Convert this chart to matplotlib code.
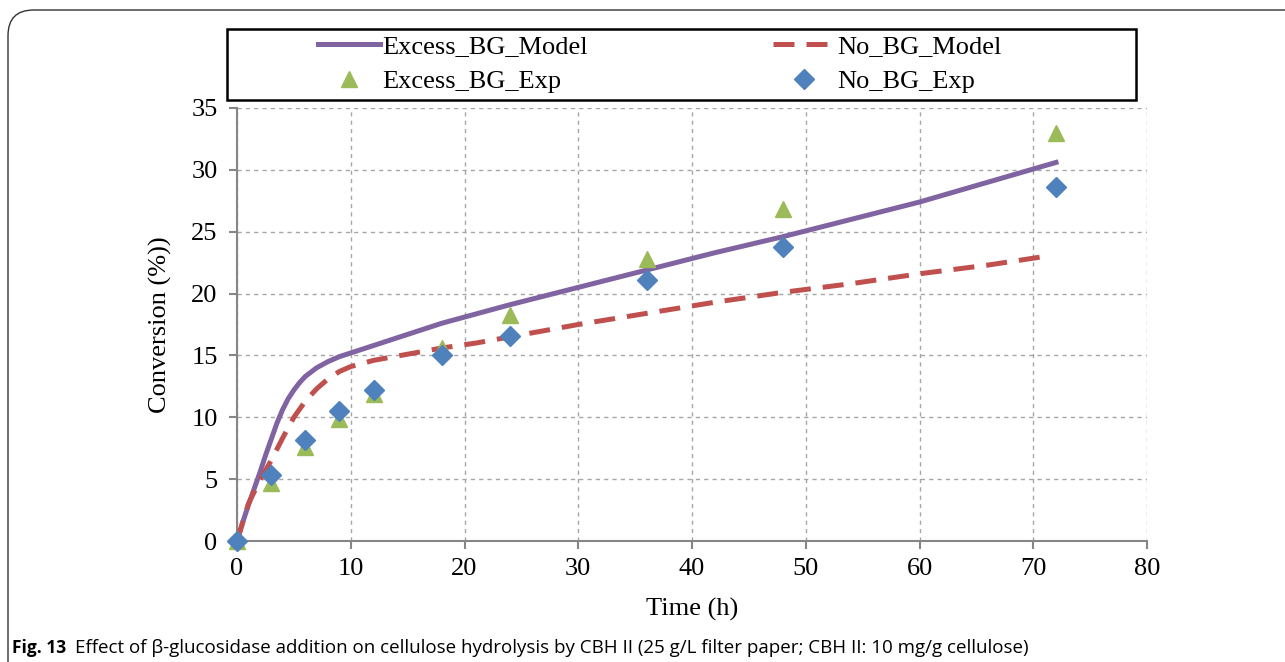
import matplotlib.pyplot as plt
from matplotlib.patches import FancyBboxPatch, Rectangle

# experimental points
t_exp = [0, 3, 6, 9, 12, 18, 24, 36, 48, 72]
excess_exp = [0, 4.7, 7.6, 9.9, 11.9, 15.6, 18.3, 22.8, 26.8, 33.0]
no_bg_exp = [0, 5.3, 8.2, 10.5, 12.2, 15.0, 16.6, 21.1, 23.8, 28.6]

# model curves
t_excess_model = [0, 0.5, 1, 1.5, 2, 2.5, 3, 3.5, 4, 4.5, 5, 5.5, 6, 7, 8, 9, 10, 12, 14, 16, 18, 20,
                  24, 30, 36, 42, 48, 54, 60, 66, 72]
excess_model = [0, 1.5, 2.9, 4.2, 5.5, 6.9, 8.2, 9.5, 10.6, 11.5, 12.2, 12.8, 13.3, 14.0, 14.5, 14.9,
                15.2, 15.8, 16.4, 17.0, 17.6, 18.1, 19.1, 20.5, 21.9, 23.3, 24.6, 26.0, 27.4, 29.0, 30.6]
t_no_bg_model = [0, 1, 2, 3, 4, 5, 6, 7, 8, 9, 10, 12, 15, 18, 21, 24, 30, 36, 42, 48, 54, 60, 66, 71]
no_bg_model = [0, 3.0, 4.9, 6.5, 8.3, 10.0, 11.3, 12.3, 13.1, 13.7, 14.1, 14.6, 15.1, 15.6, 16.0, 16.5,
               17.5, 18.4, 19.3, 20.1, 20.8, 21.6, 22.3, 23.0]

plt.rcParams['font.family'] = ['Liberation Serif', 'DejaVu Serif']

fig = plt.figure(figsize=(12.85, 6.62), dpi=100)
ax = fig.add_axes([237 / 1285, 1 - 541 / 662, 910 / 1285, 433 / 662])

ax.plot(t_excess_model, excess_model, color='#8064A2', lw=3.6, label='Excess_BG_Model', zorder=3)
ax.plot(t_no_bg_model, no_bg_model, color='#C0504D', lw=3.6, dashes=(4.2, 2.4), label='No_BG_Model', zorder=3)
ax.plot(t_exp, excess_exp, '^', color='#9BBB59', ms=12, ls='none', label='Excess_BG_Exp', zorder=4, clip_on=False)
ax.plot(t_exp, no_bg_exp, 'D', color='#4F81BD', ms=10, ls='none', label='No_BG_Exp', zorder=5, clip_on=False)

ax.set_xlim(0, 80)
ax.set_ylim(0, 35)
ax.set_xticks(range(0, 81, 10))
ax.set_yticks(range(0, 36, 5))
ax.grid(True, color='#A6A6A6', linestyle=(0, (3, 3)), lw=1)
for s in ['top', 'right']:
    ax.spines[s].set_visible(False)
for s in ['left', 'bottom']:
    ax.spines[s].set_color('#868686')
    ax.spines[s].set_linewidth(1.5)
ax.tick_params(colors='#868686', labelcolor='black', labelsize=19, length=6, width=1.5)
ax.tick_params(axis='x', pad=6)
ax.tick_params(axis='y', pad=8)
ax.set_xlabel('Time (h)', fontsize=19, labelpad=13)
ax.set_ylabel('Conversion (%))', fontsize=19, labelpad=14)

# legend: frame drawn separately, entries placed like the original
fig.patches.append(Rectangle((227 / 1285, 1 - 100 / 662), 909 / 1285, 71 / 662, transform=fig.transFigure,
                             fill=False, edgecolor='black', lw=1.8))
h, l = ax.get_legend_handles_labels()
order = [0, 2, 1, 3]
leg = fig.legend([h[i] for i in order], [l[i] for i in order], ncol=2, fontsize=19,
                 loc='center left', bbox_to_anchor=(318 / 1285, 1 - 64 / 662), frameon=False,
                 borderpad=0, borderaxespad=0, handlelength=2.35, handletextpad=0.1,
                 labelspacing=0.45, columnspacing=7.0)

# outer rounded border and caption
border = FancyBboxPatch((8 / 1285, -0.2), 1.3, 1.2 - 10 / 662, boxstyle='round,pad=0,rounding_size=0.02',
                        transform=fig.transFigure, fill=False, edgecolor='#333333', lw=1, mutation_aspect=1285 / 662)
fig.patches.append(border)
cap_y = 1 - 648 / 662
fig.text(12 / 1285, cap_y, 'Fig. 13', fontsize=12.5, fontweight='bold', family=['Open Sans', 'DejaVu Sans'], va='center')
fig.text(75 / 1285, cap_y, 'Effect of β-glucosidase addition on cellulose hydrolysis by CBH II (25 g/L filter paper; '
         'CBH II: 10 mg/g cellulose)', fontsize=13.5, family=['Open Sans', 'DejaVu Sans'], va='center')

fig.savefig('out.png', dpi=100)
